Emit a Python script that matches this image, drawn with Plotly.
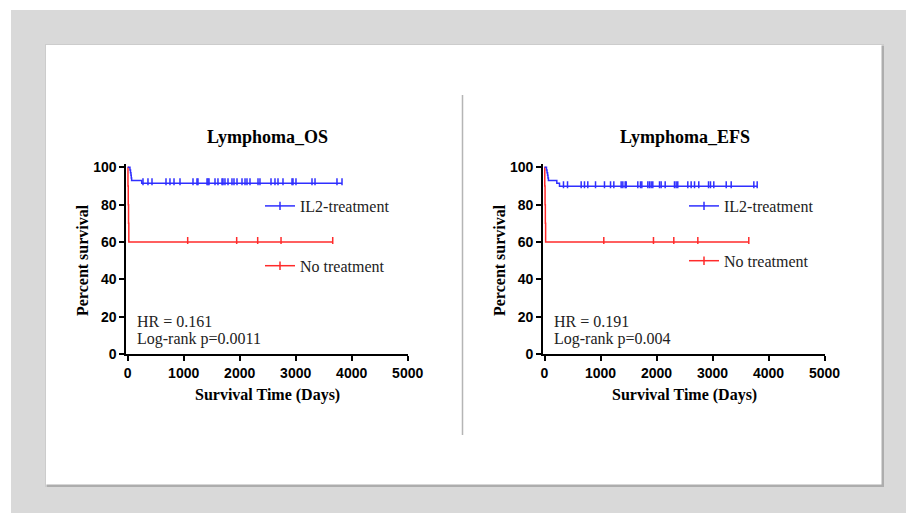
import plotly.graph_objects as go

# ---------------- data ----------------
tick_vals_x = [0, 1000, 2000, 3000, 4000, 5000]
tick_vals_y = [0, 20, 40, 60, 80, 100]

# Lymphoma_OS
os_il2_event_t = [0, 40, 50, 58, 64, 70, 250]
os_il2_event_s = [100, 98.6, 97.1, 95.7, 94.3, 92.9, 91.4]
os_il2_censor = [273, 362, 434, 684, 755, 827, 934, 1166, 1237, 1255, 1416, 1434, 1452,
                 1559, 1612, 1684, 1702, 1737, 1791, 1862, 1898, 1952, 2041, 2095, 2130,
                 2184, 2327, 2362, 2559, 2630, 2684, 2773, 2934, 2952, 3005, 3291, 3345,
                 3737, 3827]
os_no_event_t = [0, 5, 10, 15, 20]
os_no_event_s = [100, 90, 80, 70, 60]
os_no_censor = [1071, 1946, 2321, 2738, 3661]

# Lymphoma_EFS
efs_il2_event_t = [0, 35, 45, 55, 62, 70, 220, 268]
efs_il2_event_s = [100, 98.6, 97.1, 95.7, 94.3, 92.9, 91.4, 89.9]
efs_il2_censor = [339, 411, 655, 714, 773, 911, 1071, 1179, 1238, 1369, 1399, 1441, 1459,
                  1666, 1714, 1738, 1845, 1875, 1905, 1934, 2054, 2083, 2155, 2321, 2351,
                  2380, 2559, 2619, 2679, 2755, 2929, 2964, 3023, 3245, 3334, 3738, 3798]
efs_no_event_t = [0, 5, 10, 15, 20]
efs_no_event_s = [100, 90, 80, 70, 60]
efs_no_censor = [1059, 1946, 2309, 2738, 3648]

titles = ["Lymphoma_OS", "Lymphoma_EFS"]
hr_text = ["HR = 0.161", "HR = 0.191"]
p_text = ["Log-rank p=0.0011", "Log-rank p=0.004"]
series_names = ["IL2-treatment", "No treatment"]

BLUE = "#2f2fff"
RED = "#ff2b2b"

W, H = 906, 513


def fx(p):
    return p / W


def fy(p):
    return 1 - p / H


def surv_at(t, ev_t, ev_s):
    s = ev_s[0]
    for tt, ss in zip(ev_t, ev_s):
        if tt <= t:
            s = ss
    return s


fig = go.Figure()

panels = [
    dict(il2=(os_il2_event_t, os_il2_event_s, os_il2_censor),
         no=(os_no_event_t, os_no_event_s, os_no_censor),
         xa="x", ya="y", leg="legend"),
    dict(il2=(efs_il2_event_t, efs_il2_event_s, efs_il2_censor),
         no=(efs_no_event_t, efs_no_event_s, efs_no_censor),
         xa="x2", ya="y2", leg="legend2"),
]

for p in panels:
    for key, color, name in (("no", RED, series_names[1]), ("il2", BLUE, series_names[0])):
        ev_t, ev_s, cens = p[key]
        end_t = max(cens)
        xs = list(ev_t) + [end_t]
        ys = list(ev_s) + [ev_s[-1]]
        fig.add_trace(go.Scatter(x=xs, y=ys, mode="lines", line=dict(color=color, width=1.5, shape="hv"),
                                 xaxis=p["xa"], yaxis=p["ya"], showlegend=False, hoverinfo="skip"))
        cy = [surv_at(c, ev_t, ev_s) + 0.8 for c in cens]
        fig.add_trace(go.Scatter(x=cens, y=cy, mode="markers",
                                 marker=dict(symbol="line-ns-open", size=5, color=color,
                                             line=dict(color=color, width=1.5)),
                                 xaxis=p["xa"], yaxis=p["ya"], showlegend=False, hoverinfo="skip"))

# legend entries
for p in panels:
    for grp, (color, name) in enumerate(((BLUE, series_names[0]), (RED, series_names[1]))):
        fig.add_trace(go.Scatter(x=[None], y=[None], mode="lines+markers", name=name,
                                 line=dict(color=color, width=1.5),
                                 marker=dict(symbol="line-ns-open", size=6, color=color,
                                             line=dict(color=color, width=1.5)),
                                 xaxis=p["xa"], yaxis=p["ya"], legend=p["leg"],
                                 legendgroup=p["leg"] + str(grp), showlegend=True))

# geometry (pixel)
L_x0, L_scale = 127.7, 280 / 5000
R_x0 = 544.5
y0_px, y100_px = 354.0, 167.3
x_lo = -25
y_hi = 101.5
yscale = (y0_px - y100_px) / 100


def xdom(x0):
    return [fx(x0 + x_lo * L_scale), fx(x0 + 5000 * L_scale)]


ydom = [fy(y0_px), fy(y100_px - (y_hi - 100) * yscale)]

axis_common = dict(showgrid=False, zeroline=False, showline=True, linecolor="black", linewidth=2,
                   ticks="outside", ticklen=5, tickwidth=2, tickcolor="black", automargin=False,
                   tickfont=dict(family="Liberation Sans, Arial", size=14, color="black", weight="bold"))

fig.update_layout(
    xaxis=dict(domain=xdom(L_x0), range=[x_lo, 5000], tickvals=tick_vals_x, anchor="y", **axis_common),
    yaxis=dict(domain=ydom, range=[0, y_hi], tickvals=tick_vals_y, anchor="x", **axis_common),
    xaxis2=dict(domain=xdom(R_x0), range=[x_lo, 5000], tickvals=tick_vals_x, anchor="y2", **axis_common),
    yaxis2=dict(domain=ydom, range=[0, y_hi], tickvals=tick_vals_y, anchor="x2", **axis_common),
)

leg_common = dict(font=dict(family="Liberation Serif, Times New Roman", size=16, color="#222"),
                  bgcolor="rgba(0,0,0,0)", borderwidth=0,
                  xanchor="left", yanchor="middle", traceorder="grouped", itemclick=False)
fig.update_layout(
    legend=dict(x=fx(260), y=fy(236), tracegroupgap=36, **leg_common),
    legend2=dict(x=fx(684), y=fy(233.5), tracegroupgap=31, **leg_common),
)

# shapes: white page strip, card shadow, card, divider (paper bg is the slide grey)
shapes = [
    dict(type="rect", xref="paper", yref="paper", x0=0, x1=1, y0=fy(10), y1=1,
         fillcolor="white", line=dict(width=0), layer="below"),
    dict(type="rect", xref="paper", yref="paper", x0=0, x1=fx(11), y0=0, y1=1,
         fillcolor="white", line=dict(width=0), layer="below"),
    dict(type="rect", xref="paper", yref="paper", x0=fx(45), x1=fx(884), y0=fy(487), y1=fy(44),
         fillcolor="#cccccc", line=dict(width=0), layer="below"),
    dict(type="rect", xref="paper", yref="paper", x0=fx(47), x1=fx(884), y0=fy(487), y1=fy(46),
         fillcolor="#adadad", line=dict(width=0), layer="below"),
    dict(type="rect", xref="paper", yref="paper", x0=fx(46), x1=fx(881.5), y0=fy(484.5), y1=fy(45),
         fillcolor="white", line=dict(width=0), layer="below"),
    dict(type="line", xref="paper", yref="paper", x0=fx(462.5), x1=fx(462.5), y0=fy(435), y1=fy(95),
         line=dict(color="#b5b5b5", width=1.5), layer="below"),
]

serif = "Liberation Serif, Times New Roman"
ann = []
for i, (xc0, ytx) in enumerate(((L_x0, 82), (R_x0, 499))):
    cx = xc0 + 2500 * L_scale
    ann.append(dict(text="<b>%s</b>" % titles[i], x=fx(cx), y=fy(137), xref="paper", yref="paper",
                    showarrow=False, xanchor="center", yanchor="middle",
                    font=dict(family=serif, size=18, color="black")))
    ann.append(dict(text="<b>Survival Time (Days)</b>", x=fx(cx), y=fy(395), xref="paper", yref="paper",
                    showarrow=False, xanchor="center", yanchor="middle",
                    font=dict(family=serif, size=16, color="black")))
    ann.append(dict(text="<b>Percent survival</b>", x=fx(ytx), y=fy(260), xref="paper", yref="paper",
                    showarrow=False, xanchor="center", yanchor="middle", textangle=-90,
                    font=dict(family=serif, size=16, color="black")))
    ann.append(dict(text=hr_text[i], x=fx(xc0 + 7.5), y=fy(321), xref="paper", yref="paper",
                    showarrow=False, xanchor="left", yanchor="middle",
                    font=dict(family=serif, size=16, color="#222")))
    ann.append(dict(text=p_text[i], x=fx(xc0 + 7.5), y=fy(339), xref="paper", yref="paper",
                    showarrow=False, xanchor="left", yanchor="middle",
                    font=dict(family=serif, size=16, color="#222")))

fig.update_layout(
    width=W, height=H, margin=dict(l=0, r=0, t=0, b=0, pad=0, autoexpand=False),
    paper_bgcolor="#d9d9d9", plot_bgcolor="rgba(0,0,0,0)",
    shapes=shapes, annotations=ann,
)

post = ("document.documentElement.style.margin='0';document.body.style.margin='0';"
        "document.documentElement.style.overflow='hidden';document.body.style.overflow='hidden';")

fig.write_html("out.html", config={"displayModeBar": False}, post_script=post)
